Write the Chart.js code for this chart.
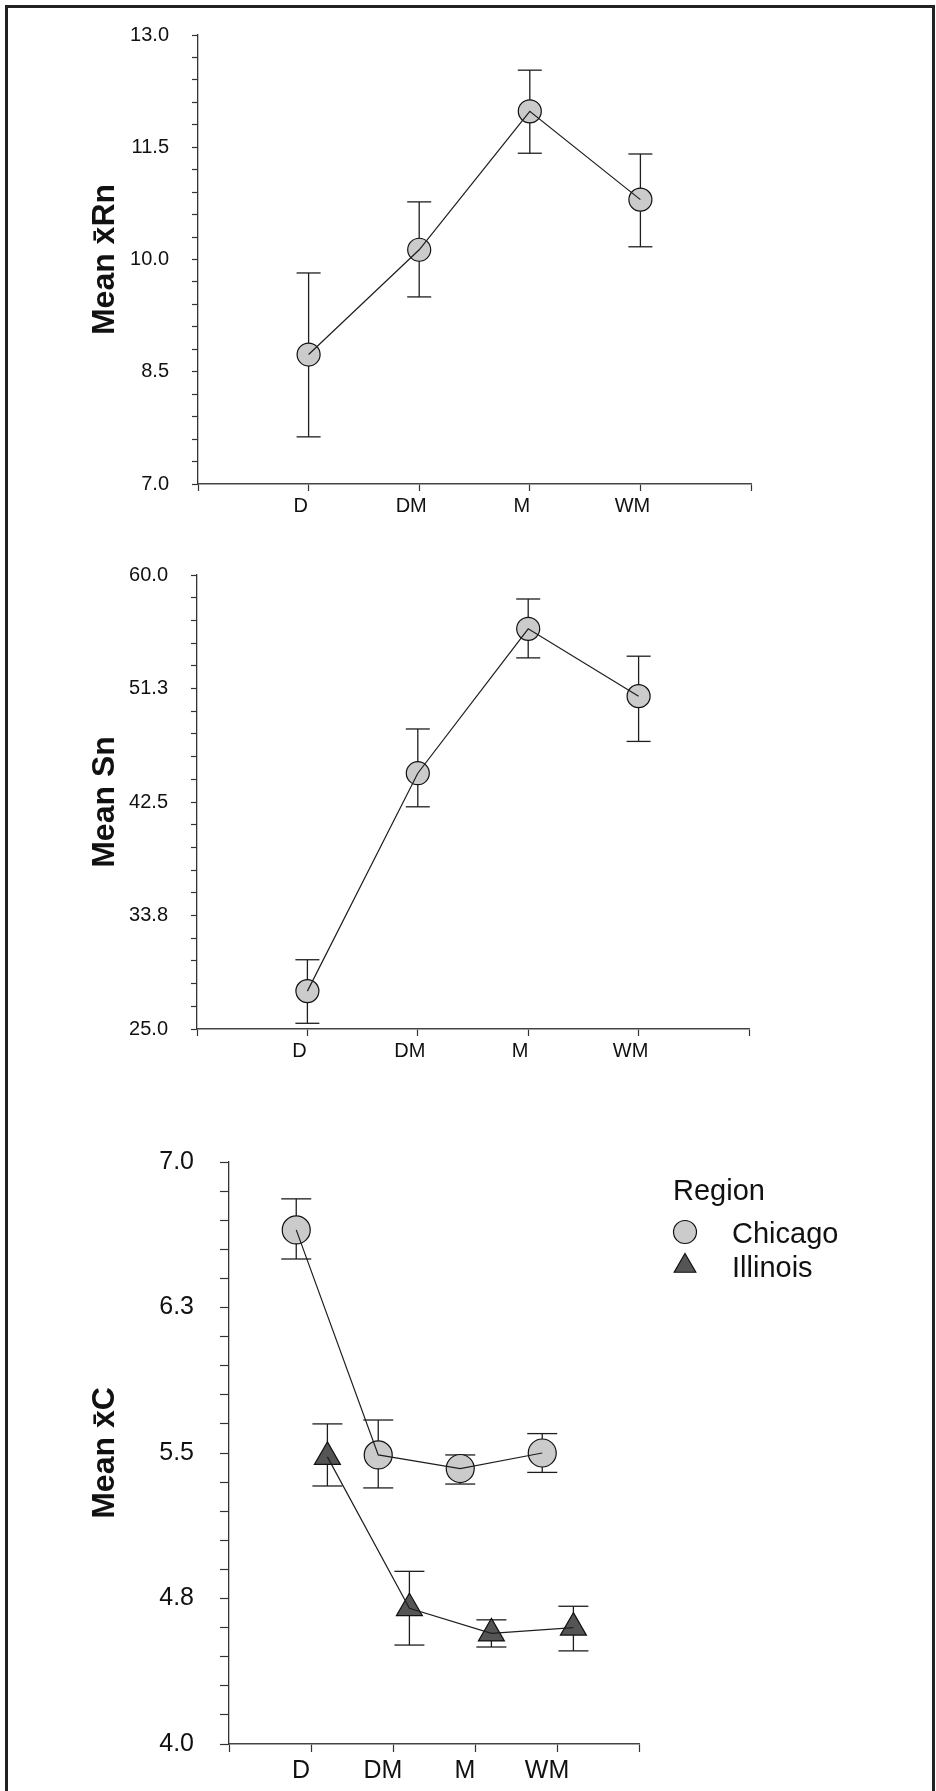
<!DOCTYPE html>
<html>
<head>
<meta charset="utf-8">
<script src="https://cdn.jsdelivr.net/npm/chart.js@4.4.1/dist/chart.umd.min.js"></script>
<style>
html,body{margin:0;padding:0;background:#fff;}
body{width:936px;height:1791px;position:relative;overflow:hidden;}
.frame{position:absolute;left:5px;top:5px;width:924px;height:1820px;border:3px solid #222;border-bottom:none;}
canvas{position:absolute;left:0;}
</style>
</head>
<body>
<div class="frame"></div>
<canvas id="c1" width="936" height="540" style="top:0px"></canvas>
<canvas id="c2" width="936" height="540" style="top:540px"></canvas>
<canvas id="c3" width="936" height="711" style="top:1080px"></canvas>
<script>
// ---------------- data ----------------
const categories = ['D', 'DM', 'M', 'WM'];

// Panel 1: Mean x̄Rn
const rnMean  = [8.73, 10.13, 11.98, 10.80];
const rnUpper = [9.82, 10.77, 12.53, 11.41];
const rnLower = [7.63, 9.50, 11.42, 10.17];
const rnTickLabels = ['7.0', '8.5', '10.0', '11.5', '13.0'];

// Panel 2: Mean Sn
const snMean  = [27.92, 44.72, 55.85, 50.66];
const snUpper = [30.34, 48.13, 58.15, 53.74];
const snLower = [25.44, 42.13, 53.61, 47.17];
const snTickLabels = ['25.0', '33.8', '42.5', '51.3', '60.0'];

// Panel 3: Mean x̄C by region
const regions = ['Chicago', 'Illinois'];
const cChicagoMean  = [6.65, 5.49, 5.42, 5.50];
const cChicagoUpper = [6.81, 5.67, 5.49, 5.60];
const cChicagoLower = [6.50, 5.32, 5.34, 5.40];
const cIllinoisMean  = [5.48, 4.70, 4.57, 4.60];
const cIllinoisUpper = [5.65, 4.89, 4.64, 4.71];
const cIllinoisLower = [5.33, 4.51, 4.50, 4.48];
const cTickLabels = ['4.0', '4.8', '5.5', '6.3', '7.0'];

// ---------------- style ----------------
const FONT = '"Liberation Sans", Arial, Helvetica, sans-serif';
const INK = '#1e1e1e';
const CIRCLE_FILL = '#cbcbcb';
const TRIANGLE_FILL = '#555555';

const regionLegend = {
  id: 'regionLegend',
  afterDraw(chart, args, o) {
    if (!o || !o.show) return;
    const {ctx, chartArea} = chart;
    ctx.save();
    ctx.textAlign = 'left';
    ctx.textBaseline = 'alphabetic';
    ctx.fillStyle = '#111';
    ctx.font = o.fontSize + 'px ' + FONT;
    ctx.fillText(o.title, chartArea.right + 34, chartArea.top + 38);
    const items = chart.data.datasets.filter(d => d.legendItem);
    items.forEach((d, k) => {
      const cy = chartArea.top + 70 + k * 34;
      const cx = chartArea.right + 46;
      ctx.fillStyle = d.pointBackgroundColor;
      ctx.strokeStyle = '#111';
      ctx.lineWidth = 1.2;
      Chart.helpers.drawPoint(ctx, {pointStyle: d.pointStyle, radius: o.markerRadius[k], borderWidth: 1.2, rotation: 0}, cx, cy);
      ctx.fillStyle = '#111';
      ctx.fillText(d.label, chartArea.right + 93, cy + 11);
    });
    ctx.restore();
  }
};

function buildDatasets(p) {
  const ds = [];
  p.series.forEach(s => {
    const xs = s.mean.map((_, i) => i + 1 + s.dodge);
    s.mean.forEach((_, i) => {
      ds.push({
        data: [{x: xs[i], y: s.lower[i]}, {x: xs[i], y: s.upper[i]}],
        showLine: true, borderColor: INK, borderWidth: 1.3,
        pointStyle: 'line', pointRadius: p.capR, pointHoverRadius: p.capR,
        pointBorderColor: INK, pointBorderWidth: 1.3, order: 3
      });
    });
    const pts = s.mean.map((v, i) => ({x: xs[i], y: v}));
    ds.push({
      label: s.label, legendItem: true, data: pts, showLine: false,
      pointStyle: s.style, pointRadius: s.r, pointHoverRadius: s.r,
      pointBackgroundColor: s.fill, pointBorderColor: '#111', pointBorderWidth: 1.2, order: 2
    });
    ds.push({
      data: pts, showLine: true, borderColor: INK, borderWidth: 1.2,
      pointRadius: 0, pointHoverRadius: 0, order: 1
    });
  });
  return ds;
}

function makePanel(p) {
  const W = 936;
  const a = p.area;
  const xAxisH = 40;
  const pad = {
    left: 0,
    top: a.top - p.top,
    right: W - a.right,
    bottom: p.height - (a.bottom - p.top) - xAxisH
  };
  const step = (p.yMax - p.yMin) / 20;
  const gridCommon = (tl) => ({
    drawOnChartArea: false, drawTicks: true, tickLength: tl,
    tickColor: '#333', tickWidth: 1.2, color: '#333'
  });
  return new Chart(document.getElementById(p.canvas), {
    type: 'scatter',
    data: {datasets: buildDatasets(p)},
    options: {
      responsive: false,
      animation: false,
      devicePixelRatio: 1,
      events: [],
      layout: {padding: pad},
      plugins: {
        legend: {display: false},
        tooltip: {enabled: false},
        regionLegend: p.legend
      },
      scales: {
        x: {
          type: 'linear', min: 0, max: 5,
          afterBuildTicks: s => { s.ticks = [0, 1, 2, 3, 4, 5].map(v => ({value: v})); },
          afterFit: s => { s.height = xAxisH; },
          border: {color: '#444', width: 1.6},
          grid: gridCommon(p.xTick),
          ticks: {
            autoSkip: false, maxRotation: 0, minRotation: 0,
            callback: v => categories[v - 1] || '',
            labelOffset: p.xOff, padding: p.xPad,
            font: {family: FONT, size: p.fs}, color: '#111'
          }
        },
        y: {
          type: 'linear', min: p.yMin, max: p.yMax,
          afterBuildTicks: s => { s.ticks = Array.from({length: 21}, (_, k) => ({value: p.yMin + k * step})); },
          afterFit: s => { s.width = a.left; },
          border: {color: '#333', width: 1.3},
          grid: gridCommon(p.yTick),
          ticks: {
            autoSkip: false,
            callback: (v, idx) => (idx % 5 === 0 ? p.yLabels[idx / 5] : ''),
            padding: p.yPad,
            font: {family: FONT, size: p.fs}, color: '#111'
          },
          title: {
            display: true, text: p.title, color: '#111',
            font: {family: FONT, size: 32, weight: 'bold'},
            padding: {top: 86, bottom: 0}
          }
        }
      }
    },
    plugins: [regionLegend]
  });
}

makePanel({
  canvas: 'c1', top: 0, height: 540,
  area: {left: 198, right: 751, top: 21, bottom: 484},
  yMin: 7, yMax: 13, yLabels: rnTickLabels, title: 'Mean x\u0304Rn',
  series: [{label: 'Chicago', mean: rnMean, upper: rnUpper, lower: rnLower, dodge: 0, style: 'circle', r: 11.5, fill: CIRCLE_FILL}],
  capR: 12, fs: 20, yTick: 6, xTick: 7, yPad: 23, xPad: 3, xOff: -8,
  legend: {show: false}
});

makePanel({
  canvas: 'c2', top: 540, height: 540,
  area: {left: 197, right: 749, top: 567, bottom: 1029},
  yMin: 25, yMax: 60, yLabels: snTickLabels, title: 'Mean Sn',
  series: [{label: 'Chicago', mean: snMean, upper: snUpper, lower: snLower, dodge: 0, style: 'circle', r: 11.5, fill: CIRCLE_FILL}],
  capR: 12, fs: 20, yTick: 6, xTick: 7, yPad: 23, xPad: 3, xOff: -8,
  legend: {show: false}
});

makePanel({
  canvas: 'c3', top: 1080, height: 711,
  area: {left: 229, right: 639, top: 1162, bottom: 1744},
  yMin: 4, yMax: 7, yLabels: cTickLabels, title: 'Mean x\u0304C',
  series: [
    {label: regions[0], mean: cChicagoMean, upper: cChicagoUpper, lower: cChicagoLower, dodge: -0.18, style: 'circle', r: 14, fill: CIRCLE_FILL},
    {label: regions[1], mean: cIllinoisMean, upper: cIllinoisUpper, lower: cIllinoisLower, dodge: 0.2, style: 'triangle', r: 15, fill: TRIANGLE_FILL}
  ],
  capR: 15, fs: 25, yTick: 9, xTick: 8, yPad: 26, xPad: 4, xOff: -10,
  legend: {show: true, title: 'Region', fontSize: 29, markerRadius: [11.5, 12.5]}
});
</script>
</body>
</html>
